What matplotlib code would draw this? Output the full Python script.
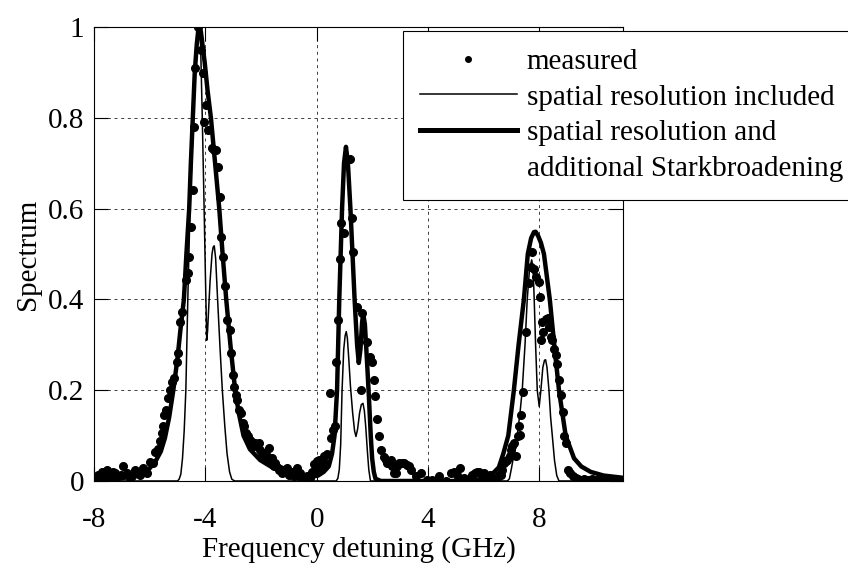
import matplotlib.pyplot as plt
from matplotlib.lines import Line2D

plt.rcParams['font.family'] = ['Liberation Serif', 'DejaVu Serif']
plt.rcParams['lines.scale_dashes'] = False

# Measured spectrum
measX = [-7.96, -7.85, -7.72, -7.63, -7.54, -7.42, -7.33, -7.24, -7.13, -7.04, -6.95, -6.82, -6.71, -6.62,
         -6.53, -6.44, -6.35, -6.23, -6.11, -5.99, -5.87, -5.81, -5.69, -5.63, -5.57, -5.53, -5.49,
         -5.42, -5.33, -5.27, -5.21, -5.12, -5.03, -4.97, -4.92, -4.85, -4.70, -4.64, -4.59, -4.51,
         -4.44, -4.39, -4.37, -4.25, -4.16, -4.10, -4.04, -3.97, -3.91, -3.77, -3.68, -3.61, -3.53,
         -3.48, -3.42, -3.37, -3.29, -3.22, -3.13, -3.08, -3.02, -2.97, -2.91, -2.85, -2.78, -2.72,
         -2.66, -2.60, -2.53, -2.47, -2.39, -2.33, -2.27, -2.21, -2.15, -2.09, -2.03, -1.97, -1.91,
         -1.85, -1.79, -1.73, -1.67, -1.61, -1.55, -1.49, -1.43, -1.37, -1.31, -1.25, -1.19, -1.13,
         -1.07, -1.01, -0.95, -0.89, -0.83, -0.77, -0.71, -0.65, -0.59, -0.53, -0.47, -0.41, -0.35,
         -0.29, -0.23, -0.17, -0.11, -0.05, 0.01, 0.07, 0.13, 0.19, 0.25, 0.31, 0.37, 0.46, 0.51,
         0.58, 0.67, 0.70, 0.77, 0.82, 0.88, 0.99, 1.21, 1.26, 1.32, 1.44, 1.60, 1.63, 1.80, 1.92,
         1.98, 2.07, 2.11, 2.17, 2.22, 2.30, 2.41, 2.47, 2.53, 2.59, 2.65, 2.71, 2.77, 2.83, 2.89,
         2.95, 3.07, 3.13, 3.25, 3.31, 3.37, 3.55, 3.73, 3.97, 4.15, 4.39, 4.63, 4.81, 4.92, 5.04,
         5.16, 5.28, 5.41, 5.59, 5.70, 5.76, 5.82, 5.94, 6.00, 6.12, 6.24, 6.30, 6.48, 6.54, 6.60,
         6.66, 6.72, 6.79, 6.84, 6.94, 6.99, 7.02, 7.08, 7.14, 7.22, 7.26, 7.29, 7.34, 7.41, 7.50,
         7.62, 7.68, 7.74, 7.80, 7.88, 7.97, 8.01, 8.04, 8.10, 8.13, 8.22, 8.30, 8.34, 8.40, 8.46,
         8.52, 8.58, 8.64, 8.70, 8.76, 8.85, 8.88, 8.95, 9.03, 9.11, 9.20, 9.30, 9.40, 9.50, 9.60,
         9.70, 9.80, 9.90, 10.00, 10.10, 10.20, 10.30, 10.40, 10.50, 10.60, 10.70, 10.80, 10.90, 10.97]
measY = [0.006, 0.013, 0.020, 0.016, 0.024, 0.013, 0.020, 0.017, 0.010, 0.014, 0.032, 0.017, 0.006, 0.012,
         0.024, 0.020, 0.013, 0.028, 0.017, 0.041, 0.039, 0.063, 0.070, 0.087, 0.105, 0.120, 0.145,
         0.156, 0.182, 0.200, 0.219, 0.226, 0.262, 0.281, 0.351, 0.373, 0.443, 0.457, 0.494, 0.560,
         0.641, 0.780, 0.909, 1.000, 0.949, 0.898, 0.791, 0.828, 0.773, 0.733, 0.729, 0.729, 0.692,
         0.625, 0.537, 0.494, 0.430, 0.355, 0.333, 0.281, 0.233, 0.208, 0.190, 0.178, 0.156, 0.149,
         0.127, 0.120, 0.105, 0.098, 0.090, 0.086, 0.076, 0.083, 0.079, 0.083, 0.068, 0.057, 0.061,
         0.050, 0.054, 0.072, 0.046, 0.050, 0.032, 0.040, 0.030, 0.024, 0.026, 0.017, 0.024, 0.020,
         0.028, 0.014, 0.017, 0.020, 0.010, 0.016, 0.028, 0.012, 0.017, 0.006, 0.002, 0.004, 0.010,
         0.002, 0.006, 0.020, 0.037, 0.025, 0.044, 0.046, 0.032, 0.028, 0.054, 0.039, 0.060, 0.194, 0.094,
         0.112, 0.122, 0.263, 0.355, 0.490, 0.568, 0.547, 0.709, 0.579, 0.505, 0.384, 0.200, 0.369, 0.307, 0.274,
         0.263, 0.222, 0.187, 0.137, 0.098, 0.068, 0.052, 0.046, 0.039, 0.039, 0.046, 0.032, 0.017, 0.017, 0.032,
         0.039, 0.039, 0.039, 0.035, 0.032, 0.024, 0.010, 0.017, 0.002, 0.002, 0.010, 0.000, 0.017, 0.020, 0.013,
         0.028, 0.006, 0.002, 0.013, 0.017, 0.020, 0.020, 0.010, 0.017, 0.006, 0.013, 0.006, 0.006, 0.013, 0.013,
         0.024, 0.039, 0.043, 0.046, 0.054, 0.068, 0.076, 0.083, 0.054, 0.098, 0.120, 0.101, 0.145, 0.195, 0.329,
         0.435, 0.472, 0.505, 0.468, 0.450, 0.439, 0.406, 0.311, 0.351, 0.329, 0.356, 0.358, 0.340, 0.318, 0.311,
         0.290, 0.278, 0.258, 0.222, 0.190, 0.153, 0.098, 0.083, 0.024, 0.017, 0.010, 0.006, 0.004, 0.003, 0.004,
         0.003, 0.002, 0.004, 0.003, 0.002, 0.003, 0.004, 0.002, 0.003, 0.003, 0.002, 0.003, 0.002, 0.003]

# Model: spatial resolution included (thin line)
thinX = [-8.0, -5.0, -4.94, -4.88, -4.82, -4.76, -4.70, -4.63, -4.55, -4.43, -4.35, -4.27, -4.22,
         -4.17, -4.11, -4.05, -4.00, -3.97, -3.95, -3.92, -3.88, -3.83, -3.76, -3.72, -3.68, -3.63,
         -3.56, -3.47, -3.39, -3.30, -3.22, -3.13, -3.05, -2.95, 0.70, 0.76, 0.81, 0.86, 0.91, 0.97,
         1.02, 1.06, 1.10, 1.15, 1.21, 1.29, 1.36, 1.41, 1.47, 1.54, 1.60, 1.66, 1.71, 1.76, 1.82,
         1.87, 1.93, 6.85, 6.92, 7.00, 7.10, 7.20, 7.30, 7.38, 7.48, 7.56, 7.64, 7.72, 7.77, 7.81,
         7.86, 7.92, 7.99, 8.05, 8.12, 8.18, 8.22, 8.27, 8.34, 8.40, 8.46, 8.54, 8.62, 8.70, 11.0]
thinY = [0.0, 0.0, 0.004, 0.015, 0.05, 0.11, 0.20, 0.40, 0.60, 0.80, 0.92, 0.99, 1.0,
         0.96, 0.80, 0.62, 0.46, 0.37, 0.31, 0.33, 0.38, 0.44, 0.50, 0.515, 0.518, 0.49,
         0.40, 0.29, 0.20, 0.12, 0.06, 0.02, 0.004, 0.0, 0.0, 0.006, 0.025, 0.08, 0.20, 0.29,
         0.32, 0.329, 0.315, 0.27, 0.21, 0.15, 0.11, 0.098, 0.115, 0.15, 0.168, 0.171, 0.155, 0.12, 0.065,
         0.025, 0.0, 0.0, 0.005, 0.03, 0.065, 0.10, 0.15, 0.20, 0.30, 0.40, 0.465, 0.487, 0.47, 0.40,
         0.30, 0.20, 0.164, 0.20, 0.25, 0.266, 0.267, 0.25, 0.20, 0.14, 0.10, 0.045, 0.012, 0.0, 0.0]

# Model: spatial resolution and additional Stark broadening (thick line)
thickX = [-8.0, -7.0, -6.5, -6.2, -6.0, -5.8, -5.6, -5.45, -5.3, -5.15, -5.0, -4.9, -4.77, -4.68,
          -4.58, -4.52, -4.45, -4.38, -4.31, -4.25, -4.21, -4.16, -4.10, -4.02, -3.92, -3.80, -3.65,
          -3.50, -3.38, -3.25, -3.10, -2.93, -2.80, -2.63, -2.40, -2.03, -1.60, -1.07, -0.60, -0.20,
          0.05, 0.25, 0.43, 0.55, 0.64, 0.73, 0.81, 0.91, 0.98, 1.05, 1.12, 1.21, 1.36, 1.45, 1.51,
          1.57, 1.63, 1.67, 1.73, 1.80, 1.87, 1.94, 1.99, 2.05, 2.11, 2.30, 5.50, 6.00, 6.30, 6.54,
          6.70, 6.88, 7.08, 7.25, 7.44, 7.58, 7.70, 7.80, 7.86, 7.95, 8.05, 8.16, 8.37, 8.53, 8.70,
          8.94, 9.24, 9.50, 9.84, 10.30, 11.0]
thickY = [0.002, 0.006, 0.012, 0.02, 0.028, 0.042, 0.065, 0.095, 0.14, 0.20, 0.27, 0.33, 0.40, 0.50,
          0.60, 0.70, 0.80, 0.90, 0.96, 0.995, 1.0, 0.99, 0.96, 0.92, 0.86, 0.80, 0.70,
          0.60, 0.50, 0.40, 0.30, 0.20, 0.15, 0.10, 0.07, 0.046, 0.03, 0.018, 0.011, 0.009,
          0.012, 0.02, 0.032, 0.06, 0.10, 0.20, 0.40, 0.60, 0.70, 0.736, 0.70, 0.60, 0.40, 0.30, 0.26,
          0.29, 0.35, 0.368, 0.345, 0.27, 0.19, 0.10, 0.05, 0.02, 0.005, 0.0, 0.0, 0.005, 0.015, 0.03,
          0.06, 0.10, 0.20, 0.30, 0.40, 0.50, 0.535, 0.548, 0.549, 0.54, 0.525, 0.50, 0.40, 0.30, 0.20,
          0.10, 0.05, 0.032, 0.02, 0.012, 0.007]

fig = plt.figure(figsize=(8.48, 5.69), dpi=100)
ax = fig.add_axes([0.1108, 0.1547, 0.6239, 0.7979])

ax.plot(measX, measY, 'o', color='k', markersize=5.5, label='measured')
ax.plot(thinX, thinY, '-', color='k', linewidth=1.1)
ax.plot(thickX, thickY, '-', color='k', linewidth=3.2)

ax.set_xlim(-8, 11)
ax.set_ylim(0, 1)
ax.set_xticks([-8, -4, 0, 4, 8])
ax.set_xticklabels(['-8', '-4', '0', '4', '8'])
ax.set_yticks([0, 0.2, 0.4, 0.6, 0.8, 1])
ax.set_yticklabels(['0', '0.2', '0.4', '0.6', '0.8', '1'])

ax.grid(True, linestyle=(0, (2.2, 2.6)), color='0.25', linewidth=0.7)
ax.tick_params(direction='in', length=10, width=0.8, top=True, right=True, labelsize=21)
ax.tick_params(axis='x', pad=19)
ax.tick_params(axis='y', pad=7)
for s in ax.spines.values():
    s.set_linewidth(0.8)

ax.set_xlabel('Frequency detuning (GHz)', fontsize=21, labelpad=2)
ax.set_ylabel('Spectrum', fontsize=21, labelpad=5)

# Legend, MATLAB style with a two-line last entry
handles = [Line2D([], [], color='k', marker='o', markersize=4, linestyle='none'),
           Line2D([], [], color='k', linewidth=1.1),
           Line2D([], [], color='k', linewidth=3.6),
           Line2D([], [], color='none')]
labels = ['measured', 'spatial resolution included', 'spatial resolution and',
          'additional Starkbroadening']
leg = ax.legend(handles, labels, loc='upper left', bbox_to_anchor=(0.475, 0.9455),
                bbox_transform=fig.transFigure, fontsize=21, fancybox=False, edgecolor='k',
                framealpha=1, borderpad=0.6, labelspacing=0.32, handlelength=3.3,
                handletextpad=0.35, borderaxespad=0)
leg.get_frame().set_linewidth(0.8)

fig.savefig('out.png', dpi=100)
